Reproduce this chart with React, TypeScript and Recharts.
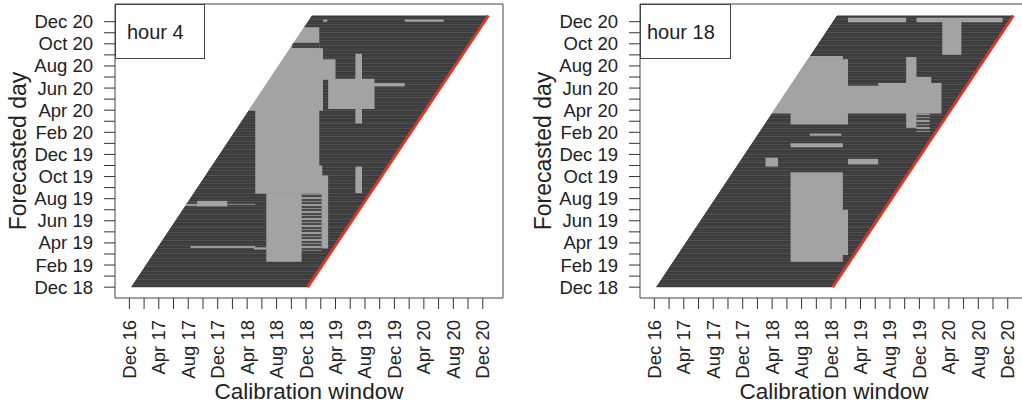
import { ComposedChart, Area, Line, XAxis, YAxis, ReferenceArea } from 'recharts'

// x: months since Dec 2016 (calibration window), y: months since Dec 2018 (forecasted day)
const X_TICKS = Array.from({ length: 25 }, (_, i) => i * 2)
const X_LABELS = ['Dec 16', 'Apr 17', 'Aug 17', 'Dec 17', 'Apr 18', 'Aug 18', 'Dec 18', 'Apr 19', 'Aug 19', 'Dec 19', 'Apr 20', 'Aug 20', 'Dec 20']
const Y_TICKS = Array.from({ length: 25 }, (_, i) => i)
const Y_LABELS = ['Dec 18', 'Feb 19', 'Apr 19', 'Jun 19', 'Aug 19', 'Oct 19', 'Dec 19', 'Feb 20', 'Apr 20', 'Jun 20', 'Aug 20', 'Oct 20', 'Dec 20']

// forecast period and the rolling two-year window that precedes each day
const FORECAST = [0, 24.56]
const WINDOW_LAG = 0.2
const WINDOW_LEN = 24

// selected windows, [x1, x2, y1, y2]
const hour4Light = [
  [10, 25.8, 15.95, 23.5],
  [25.7, 26.3, 15.95, 21.6],
  [26.2, 28.0, 18.75, 20.6],
  [27.0, 33.3, 16.1, 18.85],
  [30.7, 31.6, 14.8, 21.1],
  [33.2, 37.4, 18.15, 18.45],
  [17.1, 25.8, 10.95, 16.05],
  [17.1, 26.2, 10.05, 11.0],
  [17.1, 27.0, 8.45, 10.1],
  [18.6, 23.4, 2.3, 8.5],
  [26.1, 27.0, 3.5, 8.5],
  [30.7, 31.6, 8.5, 10.9],
  [9.2, 13.3, 7.3, 7.8],
  [37.4, 42.7, 24.0, 24.2],
  [26.3, 26.9, 24.0, 24.2],
  [16.9, 18.6, 3.4, 3.6],
]
const hour4Mixed = [
  [23.3, 26.1, 3.3, 8.8],
  [8.3, 17.1, 3.5, 3.75],
  [13.3, 17.1, 7.45, 7.65],
  [7.6, 9.2, 7.2, 7.7],
]
const hour4Dark = [
  [22.1, 25.8, 21.63, 22.09],
]

const hour18Light = [
  [10, 25.6, 20.55, 20.9],
  [10, 26.3, 18.15, 20.6],
  [10, 39.0, 15.7, 18.2],
  [30.4, 39.0, 18.15, 18.45],
  [34.2, 35.6, 14.4, 20.8],
  [35.5, 37.6, 18.15, 19.0],
  [18.5, 26.3, 14.7, 15.75],
  [21.1, 25.4, 13.7, 13.9],
  [18.5, 25.6, 12.65, 13.0],
  [26.3, 34.2, 23.96, 24.36],
  [35.6, 47.3, 23.96, 24.36],
  [39.1, 41.7, 21.0, 24.0],
  [15.1, 16.8, 10.9, 11.7],
  [26.3, 30.4, 11.1, 11.6],
  [18.5, 25.6, 2.3, 10.4],
  [25.5, 26.3, 2.9, 7.0],
]
const hour18Mixed = [
  [35.6, 37.4, 14.0, 15.7],
]
const hour18Dark: number[][] = []

const LIGHT = '#a3a3a3'
const RED = '#e2321f'
const FONT = '"Liberation Sans", Arial, sans-serif'

const X_DOMAIN = [-1.95, 50.75]
const Y_DOMAIN = [-0.98, 25.6]

const [f0, f1] = FORECAST
const frame = [
  { x: f0 + WINDOW_LAG, r: [f0, f0] },
  { x: f0 + WINDOW_LAG + WINDOW_LEN, r: [f0, f0 + WINDOW_LEN] },
  { x: f1 + WINDOW_LAG, r: [f1 - WINDOW_LEN, f1] },
  { x: f1 + WINDOW_LAG + WINDOW_LEN, r: [f1, f1] },
]
// blank out anything left of the earliest window start
const mask = [
  { x: f0 + WINDOW_LAG - 0.2, r: [f0 - 0.2, f1 + 0.4] },
  { x: f1 + WINDOW_LAG, r: [f1, f1 + 0.4] },
]
const diagonal = [
  { x: f0 + WINDOW_LAG + WINDOW_LEN, y: f0 },
  { x: f1 + WINDOW_LAG + WINDOW_LEN, y: f1 },
]

const rect = ([x1, x2, y1, y2]: number[]) => [
  { x: x1, r: [y1, y2] },
  { x: x2, r: [y1, y2] },
]

const XTick = ({ x, y, payload }: any) => {
  const i = X_TICKS.indexOf(payload.value)
  if (i % 2 !== 0) return <g />
  return (
    <text x={x} y={y} transform={`rotate(-90 ${x} ${y})`} textAnchor="end" dominantBaseline="central"
      fontSize={18.5} fontFamily={FONT} fill="#222">
      {X_LABELS[i / 2]}
    </text>
  )
}

const YTick = ({ x, y, payload }: any) => {
  const i = Y_TICKS.indexOf(payload.value)
  if (i % 2 !== 0) return <g />
  return (
    <text x={x} y={y} textAnchor="end" dominantBaseline="central" fontSize={18.5} fontFamily={FONT} fill="#222">
      {Y_LABELS[i / 2]}
    </text>
  )
}

function block(b: number[], i: number, key: string, color: string) {
  return (
    <Area key={key + i} data={rect(b)} dataKey="r" type="linear" stroke="none" fill={color}
      fillOpacity={1} isAnimationActive={false} dot={false} activeDot={false} />
  )
}

interface PanelProps {
  id: string
  title: string
  left: number
  light: number[][]
  mixed: number[][]
  dark: number[][]
  legendW: number
  textX: number
}

function Panel({ id, title, left, light, mixed, dark, legendW, textX }: PanelProps) {
  const darkFill = `url(#${id}-dark)`
  const mixFill = `url(#${id}-mix)`
  return (
    <div style={{ position: 'absolute', left, top: 0, width: 511, height: 407 }}>
      <ComposedChart width={511} height={407} margin={{ top: 4, right: 8, bottom: 0, left: 0 }}>
        <defs>
          <pattern id={`${id}-dark`} width={6} height={13} patternUnits="userSpaceOnUse">
            <rect width={6} height={13} fill="#3c3c3c" />
            <rect y={1} width={6} height={1} fill="#4c4c4c" />
            <rect y={4} width={6} height={1} fill="#464646" />
            <rect y={6} width={6} height={1} fill="#525252" />
            <rect y={9} width={6} height={1} fill="#444" />
            <rect y={11} width={6} height={1} fill="#4e4e4e" />
          </pattern>
          <pattern id={`${id}-mix`} width={6} height={7} patternUnits="userSpaceOnUse">
            <rect width={6} height={7} fill="#4a4a4a" />
            <rect y={1} width={6} height={2} fill="#9a9a9a" />
            <rect y={5} width={6} height={1} fill="#8a8a8a" />
          </pattern>
        </defs>
        <XAxis dataKey="x" type="number" domain={X_DOMAIN} ticks={X_TICKS} interval={0} allowDataOverflow
          height={109} axisLine={false} tickSize={11} tickMargin={11} tickLine={{ stroke: '#333' }} tick={<XTick />}
          label={() => (
            <text x={309} y={399} textAnchor="middle" fontSize={22.5} fontFamily={FONT} fill="#222">Calibration window</text>
          )} />
        <YAxis type="number" domain={Y_DOMAIN} ticks={Y_TICKS} interval={0} allowDataOverflow
          width={115} axisLine={false} tickSize={11} tickMargin={11} tickLine={{ stroke: '#333' }} tick={<YTick />}
          label={() => (
            <text x={26} y={151} transform="rotate(-90 26 151)" textAnchor="middle" fontSize={23} fontFamily={FONT} fill="#222">
              Forecasted day
            </text>
          )} />
        <Area data={frame} dataKey="r" type="linear" stroke="none" fill={darkFill} fillOpacity={1}
          isAnimationActive={false} dot={false} activeDot={false} />
        {mixed.map((b, i) => block(b, i, 'm', mixFill))}
        {light.map((b, i) => block(b, i, 'l', LIGHT))}
        {dark.map((b, i) => block(b, i, 'd', darkFill))}
        <Area data={mask} dataKey="r" type="linear" stroke="none" fill="#fff" fillOpacity={1}
          isAnimationActive={false} dot={false} activeDot={false} />
        <Line data={diagonal} dataKey="y" type="linear" stroke={RED} strokeWidth={3} dot={false}
          activeDot={false} isAnimationActive={false} />
        <ReferenceArea x1={X_DOMAIN[0]} x2={X_DOMAIN[1]} y1={Y_DOMAIN[0]} y2={Y_DOMAIN[1]}
          fill="none" stroke="#444" strokeWidth={1} />
      </ComposedChart>
      <svg style={{ position: 'absolute', left: 0, top: 0 }} width={260} height={70}>
        <rect x={115.5} y={4.5} width={legendW} height={54} fill="#fff" stroke="#444" />
        <text x={textX} y={39} fontSize={20} fontFamily={FONT} fill="#222">{title}</text>
      </svg>
    </div>
  )
}

export default function App() {
  return (
    <div style={{ position: 'absolute', left: 0, top: 0, width: 1022, height: 407, overflow: 'hidden', background: '#fff' }}>
      <Panel id="h4" title="hour 4" left={0} light={hour4Light} mixed={hour4Mixed} dark={hour4Dark} legendW={89} textX={127} />
      <Panel id="h18" title="hour 18" left={525} light={hour18Light} mixed={hour18Mixed} dark={hour18Dark} legendW={90} textX={122} />
    </div>
  )
}
